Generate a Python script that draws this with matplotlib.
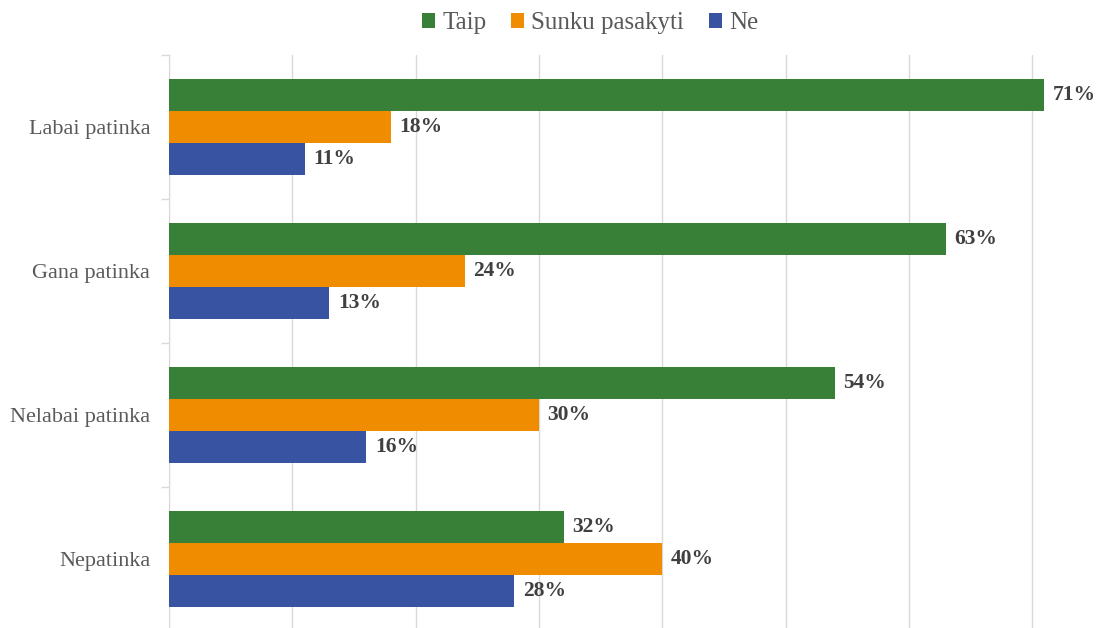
import matplotlib.pyplot as plt
from matplotlib.patches import Patch
import numpy as np

categories = ['Labai patinka', 'Gana patinka', 'Nelabai patinka', 'Nepatinka']
series = ['Taip', 'Sunku pasakyti', 'Ne']
taip = [71, 63, 54, 32]
sunku = [18, 24, 30, 40]
ne = [11, 13, 16, 28]
colors = ['#388038', '#EF8C00', '#3953A3']

plt.rcParams['font.family'] = ['Liberation Serif', 'DejaVu Serif']

fig = plt.figure(figsize=(10.97, 6.28), dpi=100)
ax = fig.add_axes([169 / 1097, 1 - 631 / 628, 1 - 169 / 1097, (631 - 55) / 628])

h = 0.222
y = np.arange(len(categories))
for i, (vals, col) in enumerate(zip([taip, sunku, ne], colors)):
    pos = y + (i - 1) * h
    ax.barh(pos, vals, height=h, color=col, zorder=3)
    for p, v in zip(pos, vals):
        ax.text(v + 0.7, p, f'{v}%', va='center', ha='left', fontsize=15.5,
                fontweight='bold', color='#404040')

ax.set_ylim(len(categories) - 0.5, -0.5)
ax.set_xlim(0, (1097 - 169) / 12.33)
ax.set_xticks(np.arange(0, 80, 10))
ax.xaxis.grid(True, color='#d9d9d9', linewidth=1, zorder=0)
ax.tick_params(axis='x', length=0, labelbottom=False)

ax.set_yticks(y)
ax.set_yticklabels(categories, fontsize=16, color='#595959')
ax.set_yticks(np.arange(-0.5, len(categories), 1), minor=True)
ax.tick_params(axis='y', which='major', length=0, pad=13.5)
ax.tick_params(axis='y', which='minor', length=6, color='#d9d9d9', width=1)

for s in ['top', 'right', 'bottom']:
    ax.spines[s].set_visible(False)
ax.spines['left'].set_color('#d9d9d9')

handles = [Patch(facecolor=c) for c in colors]
fig.legend(handles, series, loc='center', bbox_to_anchor=(0.538, 1 - 23 / 628),
           ncol=3, frameon=False, fontsize=18, handlelength=0.5, handleheight=0.55,
           handletextpad=0.3, columnspacing=1.0, labelcolor='#595959')

fig.savefig('out.png', dpi=100)
